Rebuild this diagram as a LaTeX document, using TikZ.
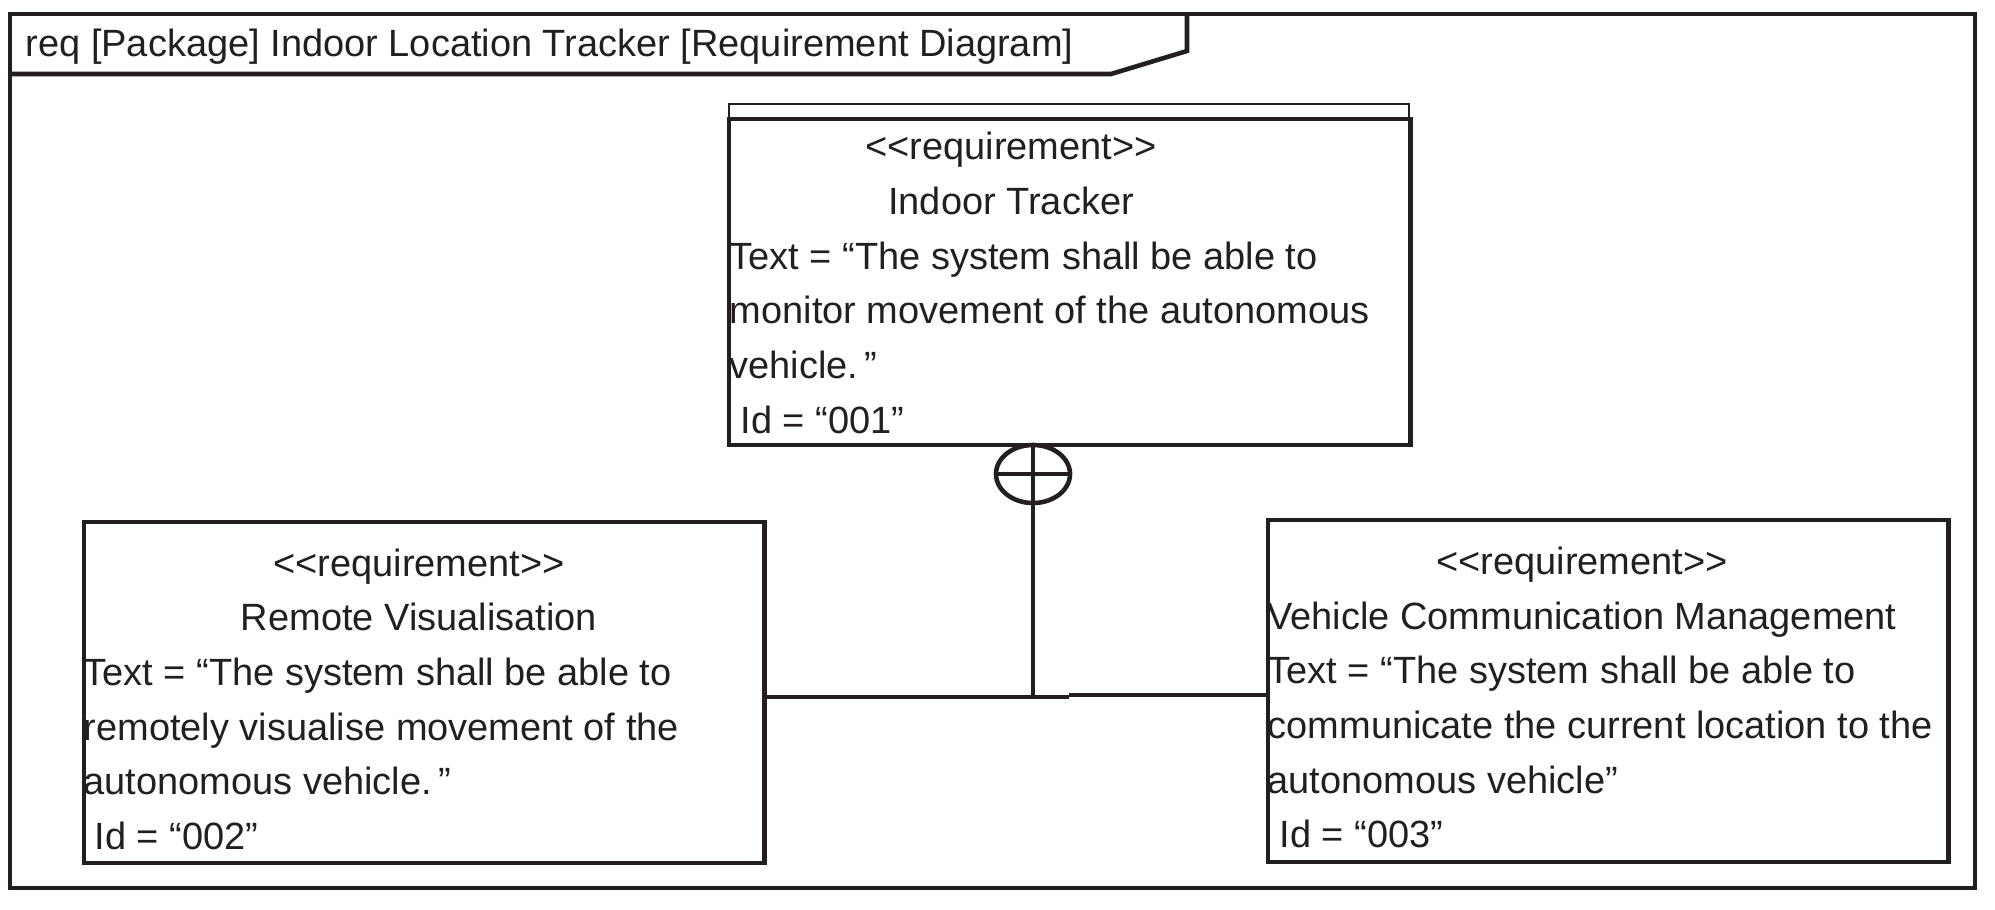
\documentclass[tikz,border=0pt]{standalone}
\usepackage{fontspec}
\setmainfont{Liberation Sans}
\usepackage{xcolor}
\usepackage{tikz}
\usetikzlibrary{shapes.geometric,positioning}

\definecolor{ink}{RGB}{35,31,32}
\newcommand{\reqst}{<{}<requirement>{}>}

\begin{document}
\begin{tikzpicture}[
  x=0.01cm, y=-0.01cm,
  font=\fontsize{10.8}{13}\selectfont,
  every node/.style={text=ink},
  reqbox/.style={draw=ink, line width=1.2pt, anchor=north west, inner sep=0pt,
                 minimum width=6.80cm},
  txt/.style={inner sep=0pt, anchor=base west},
  mid/.style={inner sep=0pt, anchor=base},
  link/.style={draw=ink, line width=1.1pt},
]
\useasboundingbox (0,0) rectangle (1995,909);

% diagram frame and name tab
\draw[ink, line width=1.3pt] (10,14) rectangle (1975,888);
\draw[ink, line width=1.3pt] (10,74) -- (1111,74) -- (1187,51) -- (1187,14);
\node[txt] (frametitle) at (25,57)
  {req [Package] Indoor Location Tracker [Requirement Diagram]};

% parent requirement
\node[draw=ink, line width=0.5pt, anchor=north west, inner sep=0pt,
      minimum width=6.80cm, minimum height=0.14cm] (trackerhead) at (728,103) {};
\node[reqbox, minimum width=6.81cm, minimum height=3.26cm] (tracker) at (727,117) {};
\node[mid] (trackerst) at (1011,159.7) {\reqst};
\node[mid] (trackername) at (1011,214.4) {Indoor Tracker};
\node[txt] (trackertxta) at (729,269.1) {Text = “The system shall be able to};
\node[txt] (trackertxtb) at (729,323.8) {monitor movement of the autonomous};
\node[txt] (trackertxtc) at (729,378.5) {vehicle.\,”};
\node[txt] (trackerid) at (740,433.2) {Id = “001”};

% child requirements
\node[reqbox, minimum height=3.41cm] (remote) at (82,520) {};
\node[mid] (remotest) at (419,576) {\reqst};
\node[mid] (remotename) at (419,630.7) {Remote Visualisation};
\node[txt] (remotetxta) at (83,685.4) {Text = “The system shall be able to};
\node[txt] (remotetxtb) at (83,740.1) {remotely visualise movement of the};
\node[txt] (remotetxtc) at (83,794.8) {autonomous vehicle.\,”};
\node[txt] (remoteid) at (94,849.5) {Id = “002”};

\node[reqbox, minimum height=3.42cm] (comms) at (1266,518) {};
\node[mid] (commsst) at (1582,574.4) {\reqst};
\node[mid] (commsname) at (1582,629.1) {Vehicle Communication Management};
\node[txt] (commstxta) at (1267,683.8) {Text = “The system shall be able to};
\node[txt] (commstxtb) at (1267,738.5) {communicate the current location to the};
\node[txt] (commstxtc) at (1267,793.2) {autonomous vehicle”};
\node[txt] (commsid) at (1279,847.9) {Id = “003”};

% containment
\node[ellipse, draw=ink, line width=1.3pt, inner sep=0pt,
      minimum width=0.74cm, minimum height=0.58cm] (contain) at (1033,474) {};
\draw[link] (contain.west) -- (contain.east);
\draw[link] (contain.north) -- (contain.south);

\coordinate (jn) at (1033,697);
\coordinate (kinka) at (1069,697);
\coordinate (kinkb) at (1069,695);
\draw[link, line width=0.95pt] (contain.south) -- (jn);
\draw[link] (remote.east |- jn) -- (jn) -- (kinka);
\draw[link, line width=0.95pt] (kinkb) -- (comms.west |- kinkb);

\end{tikzpicture}
\end{document}
